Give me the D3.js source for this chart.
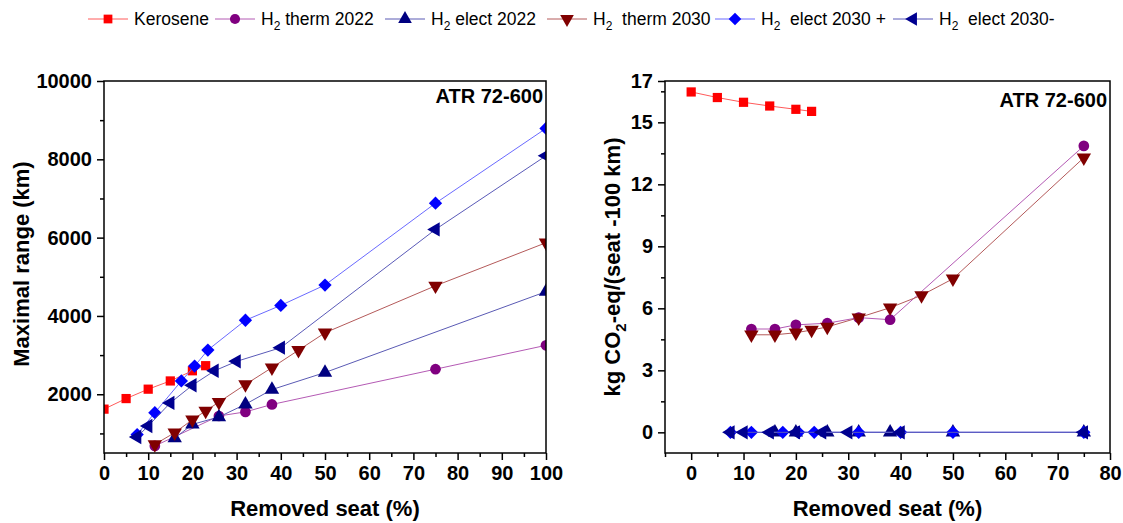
<!DOCTYPE html>
<html>
<head>
<meta charset="utf-8">
<script src="https://cdn.jsdelivr.net/npm/d3@7"></script>
<style>
  body { margin: 0; background: #fff; }
  text { font-family: "Liberation Sans", Arial, sans-serif; }
</style>
</head>
<body>
<div id="chart"></div>
<script>

// series labels (H + subscript 2 + rest)
var seriesLabels = [
	["Kerosene", "", ""],
	["H", "2", " therm 2022"],
	["H", "2", " elect 2022"],
	["H", "2", "  therm 2030"],
	["H", "2", "  elect 2030 +"],
	["H", "2", "  elect 2030-"]
];

// left panel : maximal range (km) vs removed seat (%)
var keroX = [0, 5, 10, 15, 20, 23];
var keroRange = [1620, 1890, 2130, 2340, 2600, 2730];
var therm22X = [11.5, 26, 32, 38, 75, 100];
var therm22Range = [680, 1445, 1550, 1740, 2640, 3250];
var elect22X = [16, 20, 26, 32, 38, 50, 100];
var elect22Range = [880, 1230, 1420, 1745, 2120, 2555, 4620];
var therm30X = [11.5, 16, 20, 23, 26, 32, 38, 44, 50, 75, 100];
var therm30Range = [720, 1020, 1350, 1575, 1800, 2250, 2680, 3125, 3570, 4770, 5870];
var elect30pX = [7.5, 11.5, 17.5, 20.5, 23.5, 32, 40, 50, 75, 100];
var elect30pRange = [970, 1530, 2340, 2720, 3130, 3890, 4270, 4790, 6880, 8790];
var elect30mX = [7.5, 10, 15, 20, 25, 30, 40, 75, 100];
var elect30mRange = [910, 1190, 1780, 2230, 2600, 2840, 3190, 6210, 8090];

// right panel : kg CO2-eq/(seat-100 km) vs removed seat (%)
var keroCO2 = [16.47, 16.2, 15.97, 15.79, 15.63, 15.53];
var therm22CO2X = [11.5, 16, 20, 26, 32, 38, 75];
var therm22CO2 = [5.0, 5.0, 5.2, 5.28, 5.55, 5.45, 13.86];
var elect22CO2X = [16, 20, 26, 32, 38, 50, 75];
var elect22CO2 = [0, 0, 0, 0, 0, 0, 0];
var therm30CO2X = [11.5, 16, 20, 23, 26, 32, 38, 44, 50, 75];
var therm30CO2 = [4.72, 4.72, 4.82, 4.95, 5.1, 5.55, 6.03, 6.63, 7.43, 13.29];
var elect30pCO2X = [7.5, 11.5, 17.5, 20.5, 23.5, 32, 40, 50, 75];
var elect30pCO2 = [0, 0, 0, 0, 0, 0, 0, 0, 0];
var elect30mCO2X = [7.5, 10, 15, 20, 25, 30, 40, 75];
var elect30mCO2 = [0, 0, 0, 0, 0, 0, 0, 0];

// ticks
var leftXTicks = [0, 10, 20, 30, 40, 50, 60, 70, 80, 90, 100];
var leftXMinor = [5, 15, 25, 35, 45, 55, 65, 75, 85, 95];
var leftYTicks = [2000, 4000, 6000, 8000, 10000];
var leftYMinor = [1000, 3000, 5000, 7000, 9000];
var rightXTicks = [0, 10, 20, 30, 40, 50, 60, 70, 80];
var rightXMinor = [-5, 5, 15, 25, 35, 45, 55, 65, 75];
var rightYTicks = [0, 3, 6, 9, 12, 15, 17];
var rightYMinor = [1.5, 4.5, 7.5, 10.5, 13.5, 16.5];

var markerColors = ["#ff0000", "#800080", "#000080", "#800000", "#0000ff", "#000090"];
var lineColors = ["#ff5a5a", "#b45ab4", "#5a5ab4", "#b45a5a", "#6a6aff", "#5a5ab8"];
var symbols = [d3.symbolSquare, d3.symbolCircle, d3.symbolTriangle, d3.symbolTriangle, d3.symbolSquare, d3.symbolTriangle];
var symSizes = [85, 90, 90, 90, 88, 90];
var symRotate = [0, 0, 0, 180, 45, -90];

var W = 1123, H = 523;
var svg = d3.select("#chart").append("svg")
	.attr("width", W)
	.attr("height", H);

function zip(xs, ys){
	return xs.map(function(x, i){ return [x, ys[i]]; });
}

function drawPanel(opt){
	var g = svg.append("g");
	var x = d3.scaleLinear().domain(opt.xDomain).range([opt.left, opt.right]);
	var y = d3.scaleLinear().domain(opt.yDomain).range([opt.bottom, opt.top]);

	// minor ticks
	g.append("g")
		.attr("transform", "translate(0," + opt.bottom + ")")
		.call(d3.axisBottom(x).tickValues(opt.xMinor).tickSize(4).tickFormat(""))
		.call(styleAxis);
	g.append("g")
		.attr("transform", "translate(" + opt.left + ",0)")
		.call(d3.axisLeft(y).tickValues(opt.yMinor).tickSize(4).tickFormat(""))
		.call(styleAxis);

	// major ticks
	g.append("g")
		.attr("transform", "translate(0," + opt.bottom + ")")
		.call(d3.axisBottom(x).tickValues(opt.xTicks).tickSize(7).tickPadding(6).tickFormat(d3.format("d")))
		.call(styleAxis);
	g.append("g")
		.attr("transform", "translate(" + opt.left + ",0)")
		.call(d3.axisLeft(y).tickValues(opt.yTicks).tickSize(7).tickPadding(5).tickFormat(d3.format("d")))
		.call(styleAxis);

	var clipId = "clip" + opt.id;
	svg.append("clipPath").attr("id", clipId)
		.append("rect")
		.attr("x", opt.left).attr("y", opt.top)
		.attr("width", opt.right - opt.left).attr("height", opt.bottom - opt.top);

	var plot = g.append("g").attr("clip-path", "url(#" + clipId + ")");
	var line = d3.line().x(function(d){ return x(d[0]); }).y(function(d){ return y(d[1]); });

	opt.series.forEach(function(s, i){
		plot.append("path")
			.datum(s)
			.attr("d", line)
			.attr("fill", "none")
			.attr("stroke", lineColors[i])
			.attr("stroke-width", 1);
		plot.selectAll(".m" + i)
			.data(s)
			.enter()
			.append("path")
			.attr("class", "m" + i)
			.attr("d", d3.symbol().type(symbols[i]).size(symSizes[i]))
			.attr("transform", function(d){
				return "translate(" + x(d[0]) + "," + y(d[1]) + ") rotate(" + symRotate[i] + ")";
			})
			.attr("fill", markerColors[i]);
	});

	// frame
	g.append("rect")
		.attr("x", opt.left).attr("y", opt.top)
		.attr("width", opt.right - opt.left).attr("height", opt.bottom - opt.top)
		.attr("fill", "none")
		.attr("stroke", "#000")
		.attr("stroke-width", 1.5);

	g.append("text")
		.attr("x", opt.right - 3)
		.attr("y", opt.top + opt.noteDy)
		.attr("text-anchor", "end")
		.attr("font-size", 20)
		.attr("font-weight", "bold")
		.text("ATR 72-600");

	g.append("text")
		.attr("x", (opt.left + opt.right) / 2)
		.attr("y", 516)
		.attr("text-anchor", "middle")
		.attr("font-size", 22)
		.attr("font-weight", "bold")
		.text("Removed seat (%)");

	var yt = g.append("text")
		.attr("transform", "translate(" + opt.yTitleX + "," + opt.yTitleY + ") rotate(-90)")
		.attr("text-anchor", "middle")
		.attr("font-size", 22)
		.attr("font-weight", "bold");
	opt.yTitle(yt);
}

function styleAxis(sel){
	sel.select(".domain").remove();
	sel.selectAll(".tick line").attr("stroke", "#000").attr("stroke-width", 1.5);
	sel.selectAll(".tick text")
		.attr("fill", "#000")
		.attr("font-size", 20)
		.attr("font-weight", "bold")
		.attr("font-family", "'Liberation Sans', Arial, sans-serif");
}

drawPanel({
	id: "L", left: 104, right: 546, top: 81, bottom: 453,
	xDomain: [0, 100], yDomain: [500, 10000],
	xTicks: leftXTicks, xMinor: leftXMinor, yTicks: leftYTicks, yMinor: leftYMinor,
	noteDy: 22, yTitleX: 29, yTitleY: 264,
	series: [
		zip(keroX, keroRange), zip(therm22X, therm22Range), zip(elect22X, elect22Range),
		zip(therm30X, therm30Range), zip(elect30pX, elect30pRange), zip(elect30mX, elect30mRange)
	],
	yTitle: function(t){ t.text("Maximal range (km)"); }
});

drawPanel({
	id: "R", left: 665, right: 1110, top: 81, bottom: 453,
	xDomain: [-5, 80], yDomain: [-1, 17],
	xTicks: rightXTicks, xMinor: rightXMinor, yTicks: rightYTicks, yMinor: rightYMinor,
	noteDy: 26, yTitleX: 620, yTitleY: 267,
	series: [
		zip(keroX, keroCO2), zip(therm22CO2X, therm22CO2), zip(elect22CO2X, elect22CO2),
		zip(therm30CO2X, therm30CO2), zip(elect30pCO2X, elect30pCO2), zip(elect30mCO2X, elect30mCO2)
	],
	yTitle: function(t){
		t.append("tspan").text("kg CO");
		t.append("tspan").attr("font-size", 15).attr("dy", 6).text("2");
		t.append("tspan").attr("dy", -6).text("-eq/(seat -100 km)");
	}
});

// legend
var legendX = [88, 215, 385, 547, 715, 893];
var legend = svg.append("g");
seriesLabels.forEach(function(lab, i){
	var lx = legendX[i];
	legend.append("line")
		.attr("x1", lx).attr("x2", lx + 40)
		.attr("y1", 19).attr("y2", 19)
		.attr("stroke", lineColors[i])
		.attr("stroke-width", 1);
	legend.append("path")
		.attr("d", d3.symbol().type(symbols[i]).size(symSizes[i] * 0.9))
		.attr("transform", "translate(" + (lx + 20) + ",19) rotate(" + symRotate[i] + ")")
		.attr("fill", markerColors[i]);
	var t = legend.append("text")
		.attr("x", lx + 46)
		.attr("y", 25)
		.attr("font-size", 17.5)
		.attr("fill", "#000")
		.style("white-space", "pre");
	t.append("tspan").text(lab[0]);
	if (lab[1]) {
		t.append("tspan").attr("font-size", 12).attr("dy", 5).text(lab[1]);
		t.append("tspan").attr("dy", -5).text(lab[2]);
	}
});

</script>
</body>
</html>
